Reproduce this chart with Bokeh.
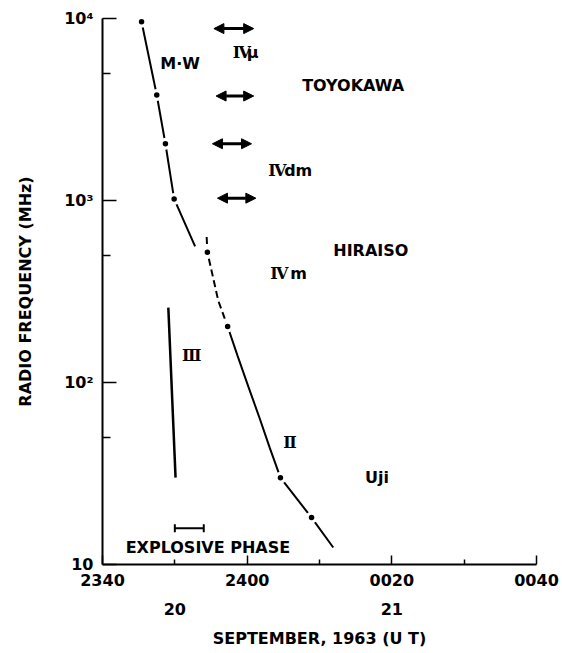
import math
from bokeh.plotting import figure
from bokeh.models import (FixedTicker, LinearAxis, Arrow, NormalHead,
                          ColumnDataSource, Range1d)
from bokeh.core.properties import value
from bokeh.embed import file_html
from bokeh.resources import INLINE

# ---------------- data (time = minutes after 23:40 UT, 20 Sep 1963) -------------
x_tick_minutes = [0, 20, 40, 60]
x_tick_labels = ["2340", "2400", "0020", "0040"]
x_minor_minutes = [10, 30, 50]
day_minutes = [10, 40]
day_labels = ["20", "21"]

y_ticks = [10, 100, 1000, 10000]
y_tick_labels = ["10", "10²", "10³", "10⁴"]
y_minor = [50, 500, 5000]

# microwave (M.W) drift curve
mw_t = [5.4, 7.5, 8.7, 9.9, 12.8]
mw_f = [9600, 3800, 2050, 1020, 560]
mw_dots = [0, 1, 2, 3]

# type II burst: upper dashed part and lower part
ii_top_t = [14.4, 14.5, 16.0, 17.3]
ii_top_f = [630, 520, 282, 203]
ii_top_dots = [1, 3]
ii_t = [17.3, 18.65, 20.2, 21.7, 23.1, 24.6, 28.9, 31.9]
ii_f = [203, 141, 94, 64, 44, 30, 18.1, 12.4]
ii_dots = [5, 6]

# type III burst
iii_t = [9.1, 10.1]
iii_f = [258, 30]

# Toyokawa type IV-mu / IV-dm intervals
toy_f = [8800, 3750, 2050, 1030]
toy_t0 = [15.4, 15.7, 15.2, 15.9]
toy_t1 = [20.9, 20.9, 20.6, 21.2]

# explosive phase
expl_t = [10, 14]
expl_f = 15.8

# annotation texts
label_text = ["M·W", "TOYOKAWA", "HIRAISO", "Uji", "EXPLOSIVE PHASE"]
label_t = [8.0, 27.6, 31.9, 36.3, 3.2]
label_f = [5665, 4285, 531, 30, 12.4]

roman_text = ["Ⅳ", "Ⅳ", "Ⅳ", "Ⅲ", "Ⅱ"]
roman_t = [18.0, 22.9, 23.2, 11.0, 25.0]
roman_f = [6500, 1462, 397, 141, 46.8]
suffix_text = ["μ", "dm", "m"]
suffix_t = roman_t[:3]
suffix_f = roman_f[:3]
suffix_dx = [14, 16, 20]   # pixel offsets after the numeral

FONT = "DejaVu Sans"
SERIF = "DejaVu Serif"

p = figure(frame_width=434, frame_height=546,
           min_border_left=102, min_border_right=26, min_border_top=18,
           min_border_bottom=85,
           x_range=Range1d(0, 60), y_range=Range1d(10, 10000),
           y_axis_type="log", output_backend="svg", toolbar_location=None)
p.outline_line_color = None
p.xgrid.visible = False
p.ygrid.visible = False
p.background_fill_color = "white"
p.border_fill_color = "white"

# x axis
xa = p.xaxis[0]
xa.ticker = FixedTicker(ticks=x_tick_minutes, minor_ticks=x_minor_minutes)
xa.major_label_overrides = {t: s for t, s in zip(x_tick_minutes, x_tick_labels)}
xa.major_tick_in = 9
xa.major_tick_out = 0
xa.minor_tick_in = 5
xa.minor_tick_out = 0
xa.axis_line_width = 2
xa.major_tick_line_width = 1.5
xa.minor_tick_line_width = 1.5
xa.major_label_standoff = 9
xa.major_label_text_font = FONT
xa.major_label_text_font_size = "16px"
xa.major_label_text_font_style = "bold"
xa.major_label_text_color = "black"

xa2 = LinearAxis(ticker=FixedTicker(ticks=day_minutes, minor_ticks=[]),
                 major_label_overrides={t: s for t, s in zip(day_minutes, day_labels)},
                 axis_line_color=None, major_tick_line_color=None,
                 minor_tick_line_color=None,
                 major_tick_in=0, major_tick_out=0,
                 major_label_standoff=14,
                 major_label_text_font=FONT, major_label_text_font_size="16px",
                 major_label_text_font_style="bold",
                 major_label_text_color="black",
                 axis_label="SEPTEMBER, 1963 (U T)",
                 axis_label_standoff=11,
                 axis_label_text_font=FONT, axis_label_text_font_size="16px",
                 axis_label_text_font_style="bold",
                 axis_label_text_color="black")
p.add_layout(xa2, "below")

# y axis
ya = p.yaxis[0]
ya.ticker = FixedTicker(ticks=y_ticks, minor_ticks=y_minor)
ya.major_label_overrides = {t: s for t, s in zip(y_ticks, y_tick_labels)}
ya.major_tick_in = 14
ya.major_tick_out = 0
ya.minor_tick_in = 8
ya.minor_tick_out = 0
ya.axis_line_width = 2
ya.major_tick_line_width = 1.5
ya.minor_tick_line_width = 1.5
ya.major_label_standoff = 9
ya.major_label_text_font = FONT
ya.major_label_text_font_size = "16px"
ya.major_label_text_font_style = "bold"
ya.major_label_text_color = "black"
ya.axis_label = "RADIO FREQUENCY (MHz)"
ya.axis_label_standoff = 26
ya.axis_label_text_font = FONT
ya.axis_label_text_font_size = "16px"
ya.axis_label_text_font_style = "bold"
ya.axis_label_text_color = "black"

# curves
p.line(mw_t, mw_f, line_color="black", line_width=2)
p.line(ii_top_t, ii_top_f, line_color="black", line_width=2, line_dash="7 4")
p.line(ii_t, ii_f, line_color="black", line_width=2)
p.line(iii_t, iii_f, line_color="black", line_width=2.5)

dot_t = [mw_t[i] for i in mw_dots] + [ii_top_t[i] for i in ii_top_dots] + \
        [ii_t[i] for i in ii_dots]
dot_f = [mw_f[i] for i in mw_dots] + [ii_top_f[i] for i in ii_top_dots] + \
        [ii_f[i] for i in ii_dots]
p.scatter(dot_t, dot_f, size=12, fill_color="white", line_color=None)
p.scatter(dot_t, dot_f, size=5.5, fill_color="black", line_color=None)

# Toyokawa arrows
src = ColumnDataSource(dict(t0=toy_t0, t1=toy_t1, f=toy_f))
p.add_layout(Arrow(start=NormalHead(size=10, fill_color="black", line_color="black"),
                   end=NormalHead(size=10, fill_color="black", line_color="black"),
                   x_start="t0", y_start="f", x_end="t1", y_end="f",
                   source=src, line_width=3, line_color="black"))

# explosive phase bar
p.segment(x0=[expl_t[0]], x1=[expl_t[1]], y0=[expl_f], y1=[expl_f],
          line_color="black", line_width=2)
p.scatter(expl_t, [expl_f, expl_f], marker="dash", angle=math.pi / 2, size=8,
          line_color="black", line_width=2)

# labels
p.text(x=label_t, y=label_f, text=label_text, text_font=value(FONT),
       text_font_size=value("16px"), text_font_style="bold",
       text_align="left", text_baseline="middle", text_color="black")
p.text(x=roman_t, y=roman_f, text=roman_text, text_font=value(SERIF),
       text_font_size=value("16px"), text_font_style="bold",
       text_align="left", text_baseline="middle", text_color="black")
p.text(x=suffix_t, y=suffix_f, text=suffix_text, x_offset=suffix_dx,
       text_font=value(FONT), text_font_size=value("16px"),
       text_font_style="bold",
       text_align="left", text_baseline="middle", text_color="black")

open("out.html", "w").write(file_html(p, INLINE))
